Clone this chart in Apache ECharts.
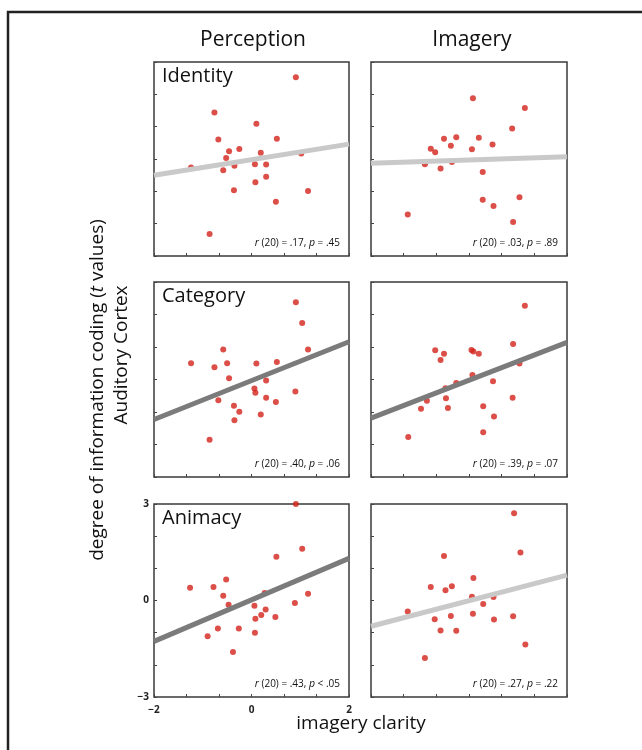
<!DOCTYPE html>
<html style="height: 100%">
<head>
<meta charset="utf-8">
</head>
<body style="height: 100%; margin: 0; background: #fff">
<div id="container" style="width: 642px; height: 750px"></div>
<script src="https://cdn.jsdelivr.net/npm/echarts@6/dist/echarts.min.js"></script>
<script>
// panels in reading order: rows = Identity, Category, Animacy ; cols = Perception, Imagery
var columnTitles = ['Perception', 'Imagery'];
var rowTitles = ['Identity', 'Category', 'Animacy'];

var identityPerception = [[0.91,2.53],[-0.76,1.44],[0.10,1.09],[-0.68,0.60],[0.52,0.63],[-0.46,0.24],[-0.25,0.31],
  [0.19,0.19],[1.02,0.17],[-1.24,-0.26],[-0.52,0.03],[-0.58,-0.35],[-0.35,-0.21],[0.07,-0.16],[0.30,-0.17],
  [0.30,-0.55],[0.08,-0.72],[-0.36,-0.97],[1.16,-0.99],[0.50,-1.32],[-0.86,-2.32]];
var identityImagery = [[0.08,1.88],[1.14,1.58],[0.88,0.94],[-0.51,0.63],[-0.26,0.67],[0.20,0.66],[-0.37,0.41],
  [-0.78,0.32],[-0.69,0.21],[0.06,0.30],[0.48,0.45],[-0.90,-0.16],[-0.35,-0.09],[-0.58,-0.29],[0.28,-0.40],
  [0.28,-1.26],[1.03,-1.18],[0.50,-1.45],[0.90,-1.95],[-1.25,-1.72]];
var categoryPerception = [[0.91,2.38],[1.04,1.74],[1.16,0.92],[-0.58,0.92],[-1.24,0.50],[-0.76,0.38],[-0.50,0.50],
  [0.10,0.49],[0.52,0.54],[-0.46,0.04],[0.30,-0.03],[0.06,-0.28],[0.08,-0.41],[0.90,-0.37],[-0.68,-0.64],
  [0.30,-0.56],[0.50,-0.69],[-0.36,-0.81],[-0.25,-0.99],[0.19,-1.08],[-0.35,-1.25],[-0.86,-1.85]];
var categoryImagery = [[1.14,2.27],[0.90,1.09],[1.03,0.49],[-0.69,0.90],[-0.51,0.79],[-0.58,0.60],[0.05,0.91],
  [0.09,0.86],[0.20,0.79],[0.07,0.14],[-0.26,-0.11],[0.49,-0.05],[-0.48,-0.27],[-0.86,-0.65],[-0.47,-0.58],
  [-0.98,-0.90],[-0.43,-0.88],[0.89,-0.56],[0.29,-0.82],[0.51,-1.14],[0.29,-1.62],[-1.24,-1.77]];
var animacyPerception = [[0.91,3.0],[1.04,1.61],[0.51,1.36],[-1.26,0.40],[-0.78,0.42],[-0.52,0.65],[-0.58,0.15],
  [-0.47,-0.13],[1.16,0.21],[0.89,-0.08],[0.06,-0.16],[0.29,-0.28],[0.20,-0.45],[0.08,-0.57],[0.49,-0.51],
  [-0.69,-0.87],[-0.26,-0.87],[-0.90,-1.11],[0.07,-1.00],[-0.38,-1.60],[0.27,0.23]];
var animacyImagery = [[0.92,2.71],[1.05,1.49],[-0.51,1.38],[0.09,0.70],[-0.78,0.42],[-0.35,0.44],[-0.48,0.32],
  [0.06,0.12],[0.50,0.11],[0.29,-0.11],[-1.25,-0.34],[0.08,-0.41],[-0.37,-0.48],[0.90,-0.49],[-0.70,-0.58],
  [0.51,-0.59],[-0.58,-0.93],[-0.26,-0.94],[1.15,-1.37],[-0.90,-1.79]];

// regression lines, ends read at x = -2 and x = 2
var fitLines = [
  [[-2,-0.50],[2,0.46]], [[-2,-0.13],[2,0.07]],
  [[-2,-1.23],[2,1.16]], [[-2,-1.19],[2,1.14]],
  [[-2,-1.27],[2,1.31]], [[-2,-0.80],[2,0.79]]
];
var fitIsSignificant = [false, false, true, true, true, false];
var statLabels = [
  ['20', '.17', '= .45'], ['20', '.03', '= .89'],
  ['20', '.40', '= .06'], ['20', '.39', '= .07'],
  ['20', '.43', '< .05'], ['20', '.27', '= .22']
];

var xTicks = [-2, -4/3, -2/3, 0, 2/3, 4/3, 2];
var yTicks = [-3, -2, -1, 0, 1, 2, 3];
var xTickLabels = [-2, 0, 2];
var yTickLabels = [-3, 0, 3];

var panelData = [identityPerception, identityImagery, categoryPerception, categoryImagery, animacyPerception, animacyImagery];

var colLeft = [154, 371];
var colWidth = [195, 196];
var rowTop = [62, 282, 504];
var rowHeight = [194, 195, 193];

var fontFamily = '"Open Sans", "Noto Sans", sans-serif';
var dotColor = '#d3221a';

var dom = document.getElementById('container');
var myChart = echarts.init(dom);

function minus(v) {
    var n = Math.round(v * 1000) / 1000;
    return n < 0 ? '\u2212' + Math.abs(n) : String(n);
}

var grids = [], xAxes = [], yAxes = [], series = [], graphics = [];

for (var i = 0; i < 6; i++) {
    var r = Math.floor(i / 2), c = i % 2;
    var showLabels = (r === 2 && c === 0);
    grids.push({
        left: colLeft[c], top: rowTop[r], width: colWidth[c], height: rowHeight[r],
        show: true, borderColor: '#3a3a3a', borderWidth: 1.5, backgroundColor: '#fff'
    });
    xAxes.push({
        type: 'value', gridIndex: i, min: -2, max: 2,
        axisLine: {show: false, onZero: false},
        splitLine: {show: false},
        axisTick: {show: true, inside: true, length: 3, customValues: xTicks, lineStyle: {color: '#444'}},
        axisLabel: {show: showLabels, customValues: xTickLabels, margin: 8, fontSize: 10, fontWeight: 'bold',
            color: '#222', fontFamily: fontFamily, formatter: minus}
    });
    yAxes.push({
        type: 'value', gridIndex: i, min: -3, max: 3,
        axisLine: {show: false, onZero: false},
        splitLine: {show: false},
        axisTick: {show: true, inside: true, length: 3, customValues: yTicks, lineStyle: {color: '#444'}},
        axisLabel: {show: showLabels, customValues: yTickLabels, margin: 5, fontSize: 10, fontWeight: 'bold',
            color: '#222', fontFamily: fontFamily, formatter: minus}
    });
    series.push({
        type: 'scatter', xAxisIndex: i, yAxisIndex: i,
        data: panelData[i], symbolSize: 6, clip: true,
        itemStyle: {color: dotColor}, z: 2, silent: true
    });
    series.push({
        type: 'line', xAxisIndex: i, yAxisIndex: i,
        data: fitLines[i], symbol: 'none', clip: true,
        lineStyle: {width: 5, color: fitIsSignificant[i] ? '#7b7b7b' : '#c9c9c9'},
        z: 3, silent: true
    });
    var s = statLabels[i];
    graphics.push({
        type: 'text',
        right: 642 - (colLeft[c] + colWidth[c] - 9),
        top: rowTop[r] + rowHeight[r] - 18,
        z: 10,
        style: {
            text: '{i|r} (' + s[0] + ') = ' + s[1] + ', {i|p} ' + s[2],
            fontSize: 10, fontFamily: fontFamily, fill: '#111',
            rich: {i: {fontStyle: 'italic', fontSize: 10.5, fontFamily: fontFamily}}
        }
    });
    if (c === 0) {
        graphics.push({
            type: 'text', left: 162, top: rowTop[r] + 4, z: 10,
            style: {text: rowTitles[r], fontSize: 20, fontFamily: fontFamily, fill: '#111'}
        });
    }
}

// column titles
graphics.push({type: 'text', x: 253, y: 40, style: {text: columnTitles[0], fontSize: 21, fontFamily: fontFamily,
    fill: '#111', align: 'center', verticalAlign: 'middle'}});
graphics.push({type: 'text', x: 472, y: 40, style: {text: columnTitles[1], fontSize: 21, fontFamily: fontFamily,
    fill: '#111', align: 'center', verticalAlign: 'middle'}});

// y axis titles (rotated)
graphics.push({type: 'text', x: 98, y: 390, rotation: Math.PI / 2, style: {
    text: 'degree of information coding ({i|t} values)', fontSize: 19, fontFamily: fontFamily, fill: '#111',
    align: 'center', verticalAlign: 'middle', rich: {i: {fontStyle: 'italic', fontSize: 19, fontFamily: fontFamily}}}});
graphics.push({type: 'text', x: 122, y: 355, rotation: Math.PI / 2, style: {
    text: 'Auditory Cortex', fontSize: 19, fontFamily: fontFamily, fill: '#111',
    align: 'center', verticalAlign: 'middle'}});

// x axis title
graphics.push({type: 'text', x: 361, y: 724, style: {text: 'imagery clarity', fontSize: 19, fontFamily: fontFamily,
    fill: '#111', align: 'center', verticalAlign: 'middle'}});

// outer frame (top and left edges)
graphics.push({type: 'polyline', shape: {points: [[8, 750], [8, 12], [642, 12]]},
    style: {stroke: '#222', lineWidth: 2.5, fill: null}});

var option = {
    animation: false,
    backgroundColor: '#fff',
    grid: grids,
    xAxis: xAxes,
    yAxis: yAxes,
    series: series,
    graphic: graphics
};

myChart.setOption(option, true);
</script>
</body>
</html>
